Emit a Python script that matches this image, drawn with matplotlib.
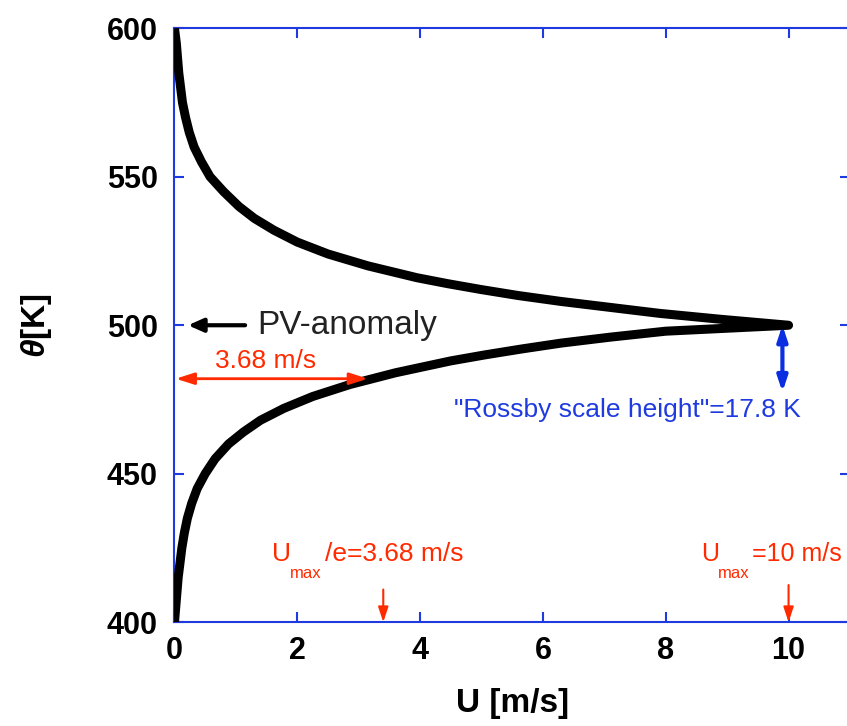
import matplotlib
matplotlib.use("Agg")
import matplotlib.pyplot as plt

plt.rcParams['font.family'] = ['Liberation Sans', 'DejaVu Sans']
plt.rcParams['mathtext.fontset'] = 'custom'
plt.rcParams['mathtext.rm'] = 'Liberation Sans'
plt.rcParams['mathtext.it'] = 'Liberation Sans:italic:bold'

# wind profile (theta in K, U in m/s)
theta = [400, 405, 410, 415, 420, 425, 430, 435, 440, 445, 450, 455, 460, 464, 468,
         472, 476, 480, 484, 486, 488, 490, 492, 494, 496, 498, 500,
         502, 504, 506, 508, 510, 512, 514, 516, 520, 524, 528, 532, 536,
         540, 545, 550, 555, 560, 565, 570, 575, 580, 585, 590, 595, 600]
U = [0.0, 0.02, 0.04, 0.06, 0.09, 0.12, 0.16, 0.21, 0.28, 0.37, 0.50, 0.66, 0.88, 1.12, 1.40,
     1.78, 2.25, 2.85, 3.6, 4.05, 4.5, 5.05, 5.65, 6.3, 7.1, 8.0, 10.0,
     8.9, 7.9, 7.1, 6.3, 5.6, 5.0, 4.45, 3.95, 3.15, 2.5, 2.0, 1.62, 1.3,
     1.05, 0.8, 0.58, 0.44, 0.32, 0.24, 0.18, 0.13, 0.1, 0.07, 0.05, 0.03, 0.0]

x_ticks = [0, 2, 4, 6, 8, 10]
y_ticks = [400, 450, 500, 550, 600]

u_max = 10
u_e_marker = 3.4      # where the arrow sits on the x axis
u_width = 3.15        # end of the red double arrow
theta_ref = 500
theta_e = 482

red = '#ff2a00'
blue = '#1f3be0'

fig = plt.figure(figsize=(8.47, 7.26), dpi=100)
ax = fig.add_axes([0.206, 0.143, 0.7975, 0.818])

ax.plot(U, theta, color='black', lw=6.5, solid_capstyle='butt',
        solid_joinstyle='round', zorder=3)

ax.set_xlim(0, 11)
ax.set_ylim(400, 600)
ax.set_xticks(x_ticks)
ax.set_yticks(y_ticks)
for s in ax.spines.values():
    s.set_color(blue)
    s.set_linewidth(1.5)
ax.tick_params(direction='in', length=7, width=1.5, color=blue,
               top=True, right=True, labelsize=22)
ax.tick_params(axis='x', pad=10)
ax.tick_params(axis='y', pad=12)
for lab in ax.get_xticklabels() + ax.get_yticklabels():
    lab.set_fontweight('bold')

ax.set_xlabel('U [m/s]', fontsize=24, fontweight='bold', labelpad=16)
ax.set_ylabel(r'$\theta$[K]', fontsize=24, fontweight='bold', labelpad=38)

# PV anomaly
ax.annotate('', xy=(0.22, theta_ref), xytext=(1.15, theta_ref),
            arrowprops=dict(arrowstyle='-|>,head_length=0.9,head_width=0.4',
                            color='black', lw=3, shrinkA=0, shrinkB=0))
ax.text(1.35, theta_ref, 'PV-anomaly', fontsize=24, color='#222222',
        va='center', ha='left')

# red width arrow
ax.annotate('', xy=(0.02, theta_e), xytext=(u_width, theta_e),
            arrowprops=dict(arrowstyle='<|-|>,head_length=1.1,head_width=0.35',
                            color=red, lw=2, shrinkA=0, shrinkB=0))
ax.text(1.48, 487.8, '3.68 m/s', fontsize=19, color=red,
        ha='center', va='center')

# blue scale height arrow
ax.annotate('', xy=(9.9, theta_ref), xytext=(9.9, 477.5),
            arrowprops=dict(arrowstyle='<|-|>,head_length=0.9,head_width=0.3',
                            color='#0a2ee0', lw=3, shrinkA=0, shrinkB=0))
ax.text(7.37, 471.5, '"Rossby scale height"=17.8 K', fontsize=19, color=blue,
        ha='center', va='center')

# markers on the x axis
ax.annotate('', xy=(u_e_marker, 400), xytext=(u_e_marker, 411),
            arrowprops=dict(arrowstyle='-|>,head_length=0.9,head_width=0.3',
                            color=red, lw=1.5, shrinkA=0, shrinkB=0))
ax.text(1.59, 420.5, 'U', fontsize=19, color=red, ha='left', va='baseline')
ax.text(1.88, 415.0, 'max', fontsize=12, color=red, ha='left', va='baseline')
ax.text(2.45, 420.5, '/e=3.68 m/s', fontsize=19, color=red, ha='left', va='baseline')

ax.annotate('', xy=(u_max, 400), xytext=(u_max, 412.5),
            arrowprops=dict(arrowstyle='-|>,head_length=0.9,head_width=0.3',
                            color=red, lw=1.5, shrinkA=0, shrinkB=0))
ax.text(8.57, 420.5, 'U', fontsize=18, color=red, ha='left', va='baseline')
ax.text(8.85, 415.0, 'max', fontsize=12, color=red, ha='left', va='baseline')
ax.text(9.4, 420.5, '=10 m/s', fontsize=18, color=red, ha='left', va='baseline')

fig.savefig('out.png', dpi=100)
